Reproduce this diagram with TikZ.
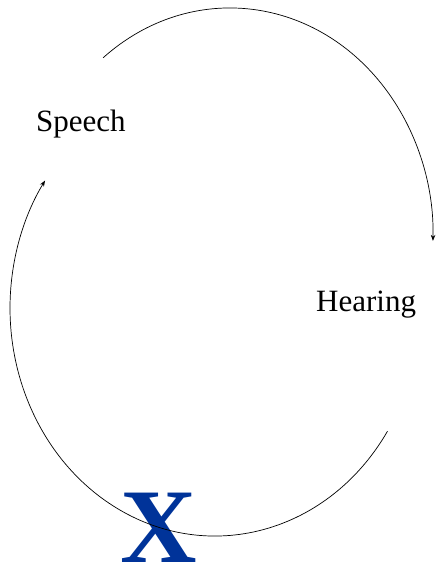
\documentclass[tikz,border=0pt]{standalone}
\usepackage{fontspec}
\setmainfont{Liberation Serif}
\usetikzlibrary{arrows.meta}
\definecolor{xblue}{RGB}{0,51,153}
\tikzset{
  label/.style={anchor=base west, inner sep=0pt, font=\fontsize{31}{31}\selectfont},
  cyc/.style={line width=0.7pt, -{Stealth[length=6pt,width=4.5pt]}},
}
\begin{document}
\begin{tikzpicture}[x=1pt,y=1pt]
\useasboundingbox (0,0) rectangle (436,-565);
\node[label] (speech) at (36,-131) {Speech};
\node[label] (hearing) at (316,-311) {Hearing};
\node[anchor=base west, inner sep=0pt, text=xblue, font=\fontsize{106}{106}\selectfont\bfseries] (x) at (120,-562) {X};
\coordinate (topstart) at (103.1,-57.8);
\coordinate (botstart) at (387.5,-431.2);
\draw[cyc] (topstart) arc[start angle=128.7, end angle=-1.5, x radius=203pt, y radius=227pt];
\draw[cyc] (botstart) arc[start angle=-32.7, end angle=-214, x radius=205pt, y radius=228pt];
\end{tikzpicture}
\end{document}
